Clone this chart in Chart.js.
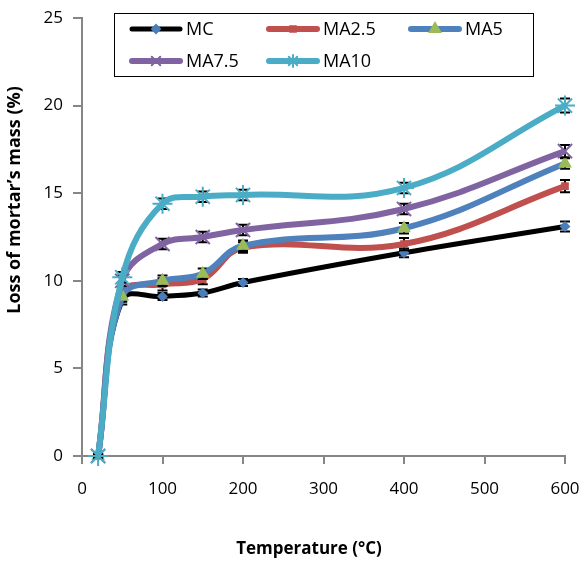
<!DOCTYPE html>
<html>
<head>
<meta charset="utf-8">
<script src="https://cdn.jsdelivr.net/npm/chart.js@4/dist/chart.umd.min.js"></script>
<style>
  html, body { margin: 0; padding: 0; background: #fff; }
  #wrap { width: 588px; height: 563px; position: relative; }
</style>
</head>
<body>
<div id="wrap"><canvas id="massChart" width="588" height="563"></canvas></div>
<script>
// temperatures (°C) and mass loss (%) per mortar mix
const temps = [20, 50, 100, 150, 200, 400, 600];
const mc   = [0, 8.9, 9.1, 9.3, 9.9, 11.6, 13.1];
const ma25 = [0, 9.3, 9.8, 10.1, 11.9, 12.1, 15.4];
const ma5  = [0, 9.1, 10.0, 10.4, 12.0, 13.0, 16.7];
const ma75 = [0, 10.0, 12.1, 12.5, 12.9, 14.1, 17.4];
const ma10 = [0, 10.2, 14.4, 14.8, 14.9, 15.3, 20.0];

// standard deviations for the error bars
const mcErr   = [0.1, 0.25, 0.2, 0.2, 0.2, 0.25, 0.28];
const ma25Err = [0.1, 0.3, 0.35, 0.3, 0.3, 0.35, 0.35];
const ma5Err  = [0.1, 0.3, 0.3, 0.3, 0.3, 0.3, 0.3];
const ma75Err = [0.1, 0.3, 0.3, 0.3, 0.3, 0.3, 0.35];
const ma10Err = [0.1, 0.3, 0.3, 0.3, 0.3, 0.3, 0.4];

const xTicks = { min: 0, max: 600, step: 100 };
const yTicks = { min: 0, max: 25, step: 5 };

const FONT = '"Open Sans", "Noto Sans", sans-serif';

function pts(vals) {
  return vals.map((v, i) => ({ x: temps[i], y: v }));
}

function series(label, vals, errs, line, marker, style, radius, order, width) {
  return {
    label: label,
    data: pts(vals),
    errors: errs,
    borderColor: line,
    borderWidth: width,
    pointStyle: style,
    pointRadius: radius,
    pointBackgroundColor: marker,
    pointBorderColor: marker,
    pointBorderWidth: 2,
    tension: 0.4,
    clip: false,
    order: order
  };
}

const datasets = [
  series('MC', mc, mcErr, '#000000', '#4a7ebb', 'rectRot', 4, 5, 5),
  series('MA2.5', ma25, ma25Err, '#c0504d', '#c0504d', 'rect', 4, 4, 6),
  series('MA5', ma5, ma5Err, '#4f81bd', '#9bbb59', 'triangle', 6, 3, 6),
  series('MA7.5', ma75, ma75Err, '#8064a2', '#8064a2', 'crossRot', 10, 2, 6),
  series('MA10', ma10, ma10Err, '#4bacc6', '#4bacc6', 'star', 10, 1, 6)
];

// error bars are drawn just before each series so its line sits over them
const errorBars = {
  id: 'errorBars',
  beforeDatasetDraw(chart, args) {
    const ds = chart.data.datasets[args.index];
    const xs = chart.scales.x, ys = chart.scales.y;
    const ctx = chart.ctx;
    ctx.save();
    ctx.strokeStyle = '#000';
    ctx.lineWidth = 2;
    ds.data.forEach((p, i) => {
      const e = ds.errors[i];
      const px = xs.getPixelForValue(p.x);
      const top = ys.getPixelForValue(p.y + e);
      const bot = ys.getPixelForValue(p.y - e);
      ctx.beginPath();
      ctx.moveTo(px, top); ctx.lineTo(px, bot);
      ctx.moveTo(px - 5, top); ctx.lineTo(px + 5, top);
      ctx.moveTo(px - 5, bot); ctx.lineTo(px + 5, bot);
      ctx.stroke();
    });
    ctx.restore();
  }
};

// boxed legend with line samples, plus axis titles
const decor = {
  id: 'decor',
  afterDraw(chart) {
    const ctx = chart.ctx;
    ctx.save();
    ctx.strokeStyle = '#000';
    ctx.lineWidth = 1;
    ctx.strokeRect(114.5, 13.5, 419, 63);

    const cols = [130, 267, 409];
    const rows = [29, 61];
    ctx.font = '18px ' + FONT;
    ctx.textBaseline = 'middle';
    ctx.textAlign = 'left';
    datasets.forEach((ds, i) => {
      const x = cols[i % 3], y = rows[Math.floor(i / 3)];
      ctx.strokeStyle = ds.borderColor;
      ctx.lineWidth = ds.borderWidth;
      ctx.lineCap = 'round';
      ctx.beginPath();
      ctx.moveTo(x + 2, y); ctx.lineTo(x + 50, y);
      ctx.stroke();
      ctx.fillStyle = ds.pointBackgroundColor;
      ctx.strokeStyle = ds.pointBorderColor;
      ctx.lineWidth = ds.pointBorderWidth;
      Chart.helpers.drawPoint(ctx, {
        pointStyle: ds.pointStyle,
        radius: Math.min(ds.pointRadius, 6),
        borderWidth: ds.pointBorderWidth
      }, x + 26, y);
      ctx.fillStyle = '#000';
      ctx.fillText(ds.label, x + 56, y + 1);
    });

    ctx.fillStyle = '#000';
    ctx.textAlign = 'center';
    ctx.font = 'bold 17px ' + FONT;
    ctx.fillText('Temperature (°C)', 309, 549);
    ctx.font = 'bold 18px ' + FONT;
    ctx.translate(15, 200);
    ctx.rotate(-Math.PI / 2);
    ctx.fillText('Loss of mortar\u2019s mass (%)', 0, 0);
    ctx.restore();
  }
};

const axisColor = '#868686';
const tickFont = { family: FONT, size: 17 };

new Chart(document.getElementById('massChart'), {
  type: 'line',
  data: { datasets: datasets },
  options: {
    responsive: false,
    animation: false,
    layout: { autoPadding: false, padding: { top: 18, right: 23, left: 0, bottom: 0 } },
    plugins: {
      legend: { display: false },
      tooltip: { enabled: false }
    },
    scales: {
      x: {
        type: 'linear',
        min: xTicks.min,
        max: xTicks.max,
        ticks: { stepSize: xTicks.step, color: '#000', font: tickFont, padding: 15, maxRotation: 0 },
        grid: { drawOnChartArea: false, color: axisColor, lineWidth: 2, tickLength: 8 },
        border: { color: axisColor, width: 2 },
        afterFit(scale) {
          scale.height = 107;
          scale.paddingLeft = 0;
          scale.paddingRight = 0;
        }
      },
      y: {
        min: yTicks.min,
        max: yTicks.max,
        ticks: { stepSize: yTicks.step, color: '#000', font: tickFont, padding: 10 },
        grid: { drawOnChartArea: false, color: axisColor, lineWidth: 2, tickLength: 9 },
        border: { color: axisColor, width: 2 },
        afterFit(scale) {
          scale.width = 82;
          scale.paddingTop = 0;
          scale.paddingBottom = 0;
        }
      }
    }
  },
  plugins: [errorBars, decor]
});
</script>
</body>
</html>
